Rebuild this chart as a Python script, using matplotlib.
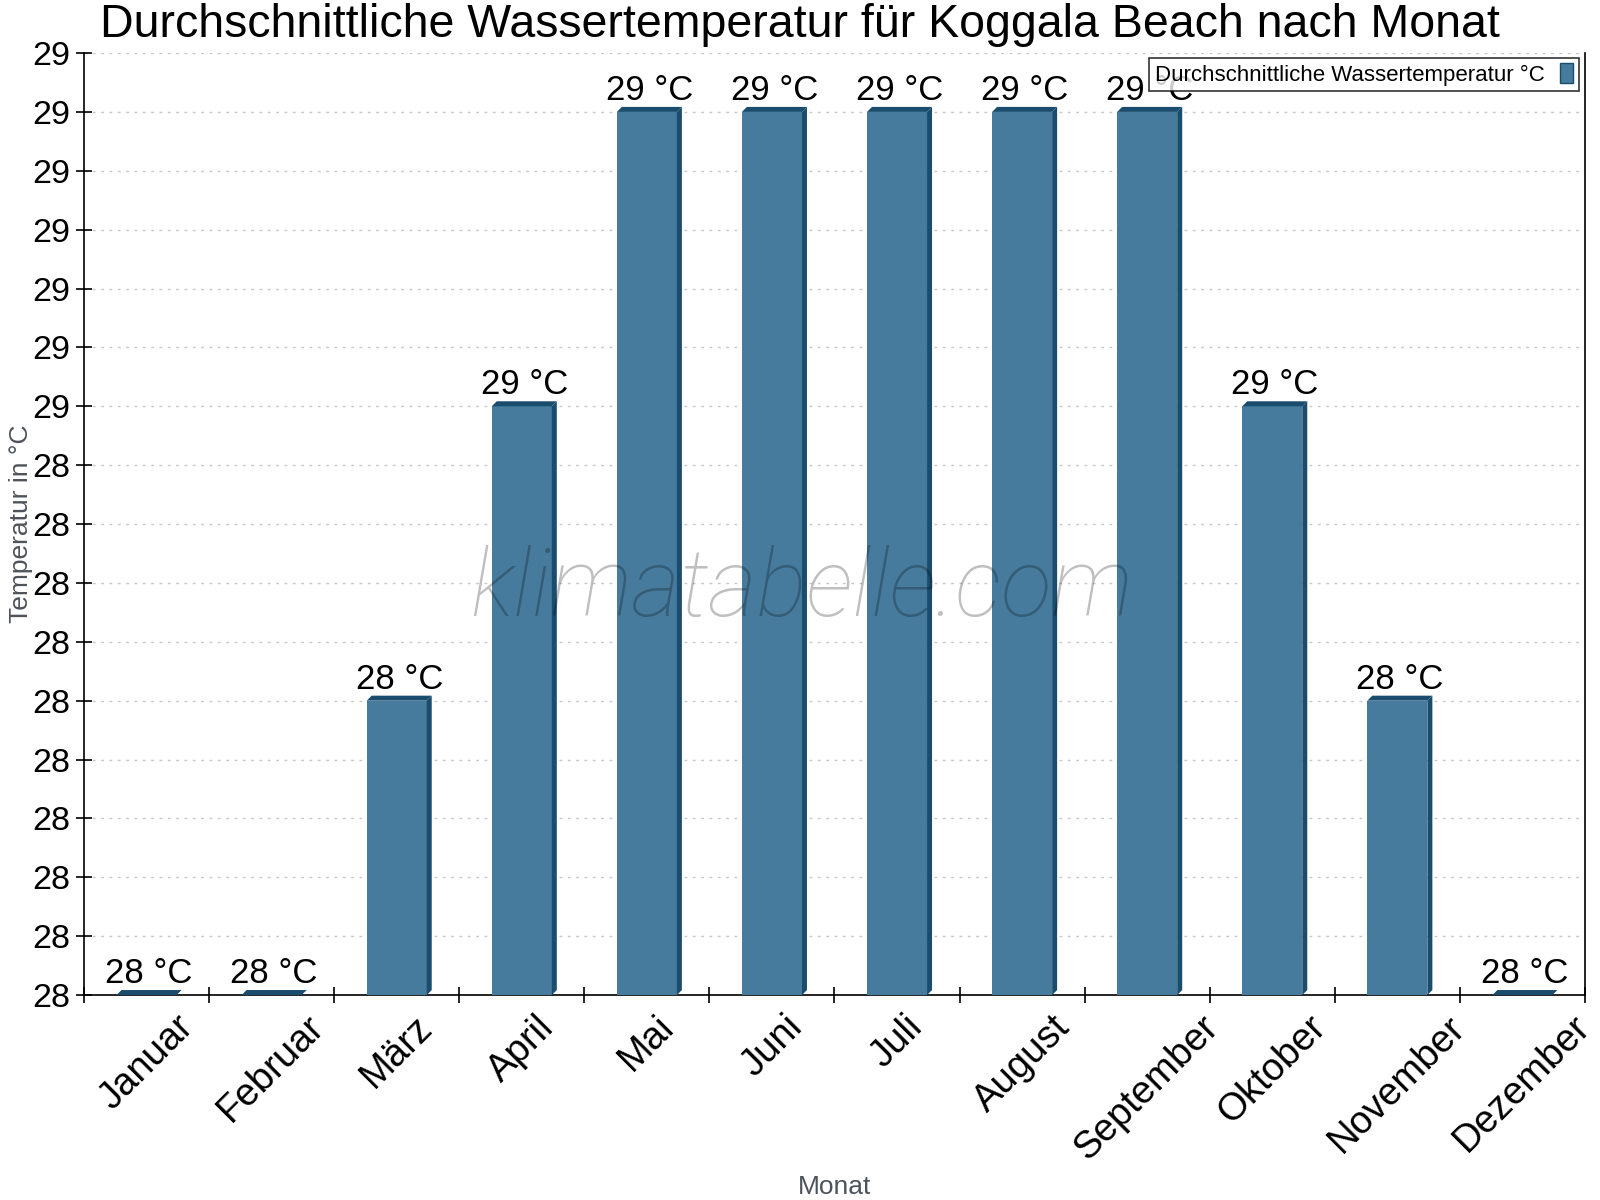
import math
import matplotlib
matplotlib.use("Agg")
import matplotlib.pyplot as plt
from matplotlib.patches import Polygon, Patch
from matplotlib.ticker import FuncFormatter, MultipleLocator, FixedLocator

# ---- data ----
months = ["Januar", "Februar", "März", "April", "Mai", "Juni", "Juli",
          "August", "September", "Oktober", "November", "Dezember"]
water_temp = [28.0, 28.0, 28.25, 28.5, 28.75, 28.75, 28.75, 28.75, 28.75, 28.5, 28.25, 28.0]
y_min, y_max, y_step = 28.0, 28.8, 0.05

title = "Durchschnittliche Wassertemperatur für Koggala Beach nach Monat"
series_name = "Durchschnittliche Wassertemperatur °C"
x_label = "Monat"
y_label = "Temperatur in °C"
watermark = "klimatabelle.com"

front_col = "#467b9d"
dark_col = "#1a4c6e"

plt.rcParams["font.family"] = ["Liberation Sans", "DejaVu Sans"]

fig = plt.figure(figsize=(16, 12), dpi=100)
ax = fig.add_axes([0.0525, 0.1708, 0.9381, 0.785])

n = len(months)
xs = list(range(n))
bw = 0.48
ax.set_xlim(-0.5, n - 0.5)
ax.set_ylim(y_min, y_max)

# depth of 3D effect in data units (5 px)
fig.canvas.draw()
bbox = ax.get_window_extent()
dx = 5 / (bbox.width / n)
dy = 5 / (bbox.height / (y_max - y_min))

ax.bar(xs, [v - y_min for v in water_temp], bottom=y_min, width=bw,
       color=front_col, zorder=3, linewidth=0)
for x, v in zip(xs, water_temp):
    l, r = x - bw / 2, x + bw / 2
    side = Polygon([(r, y_min), (r + dx, y_min + dy), (r + dx, v + dy), (r, v)],
                   closed=True, facecolor=dark_col, edgecolor="none", zorder=3)
    top = Polygon([(l, v), (r, v), (r + dx, v + dy), (l + dx, v + dy)],
                  closed=True, facecolor=dark_col, edgecolor="none", zorder=3)
    ax.add_patch(side)
    ax.add_patch(top)
    lab = f"{math.floor(v + 0.5):d} °C"
    ax.annotate(lab, (x + dx / 2, v + dy), xytext=(0, 0), textcoords="offset points",
                ha="center", va="bottom", fontsize=25, color="black", zorder=5)

# axes styling
def round_half_up(val, pos):
    return f"{math.floor(val + 0.5 + 1e-9):d}"

ax.yaxis.set_major_locator(MultipleLocator(y_step))
ax.yaxis.set_major_formatter(FuncFormatter(round_half_up))
ax.tick_params(axis="y", direction="inout", length=12, width=1.2, labelsize=24.5, pad=4)
ax.grid(axis="y", linestyle=(0, (2, 4)), color="#c8c8c8", linewidth=1, zorder=0)
ax.set_axisbelow(True)

ax.set_xticks(xs)
ax.set_xticklabels(months, rotation=45, fontsize=27.5)
ax.tick_params(axis="x", which="major", length=0, pad=10)
ax.xaxis.set_minor_locator(FixedLocator([i - 0.5 for i in range(n + 1)]))
ax.tick_params(axis="x", which="minor", direction="inout", length=12, width=1.2)

for s in ["left", "bottom", "right"]:
    ax.spines[s].set_linewidth(1.2)
    ax.spines[s].set_color("black")
ax.spines["top"].set_visible(False)

ax.set_xlabel(x_label, fontsize=19, color="#4d535a", labelpad=6)
ax.set_ylabel(y_label, fontsize=19, color="#4d535a", labelpad=-1)

fig.text(0.5, 0.979, title, ha="center", va="center", fontsize=33.5)

ax.text(0.478, 0.43, watermark, transform=ax.transAxes, ha="center", va="center",
        fontsize=67.5, style="italic", family=["Roboto", "DejaVu Sans"], fontweight="light",
        color="black", alpha=0.25, zorder=4)

handle = Patch(facecolor=front_col, edgecolor=dark_col, linewidth=1)
leg = ax.legend([handle], [series_name], loc="upper right", bbox_to_anchor=(0.996, 0.995),
                fontsize=16, markerfirst=False, frameon=True, fancybox=False,
                edgecolor="black", handlelength=0.6, handleheight=1.0,
                borderpad=0.25, handletextpad=0.7, borderaxespad=0)
leg.get_frame().set_linewidth(1.2)
leg.set_zorder(6)

fig.savefig("out.png", dpi=100)
